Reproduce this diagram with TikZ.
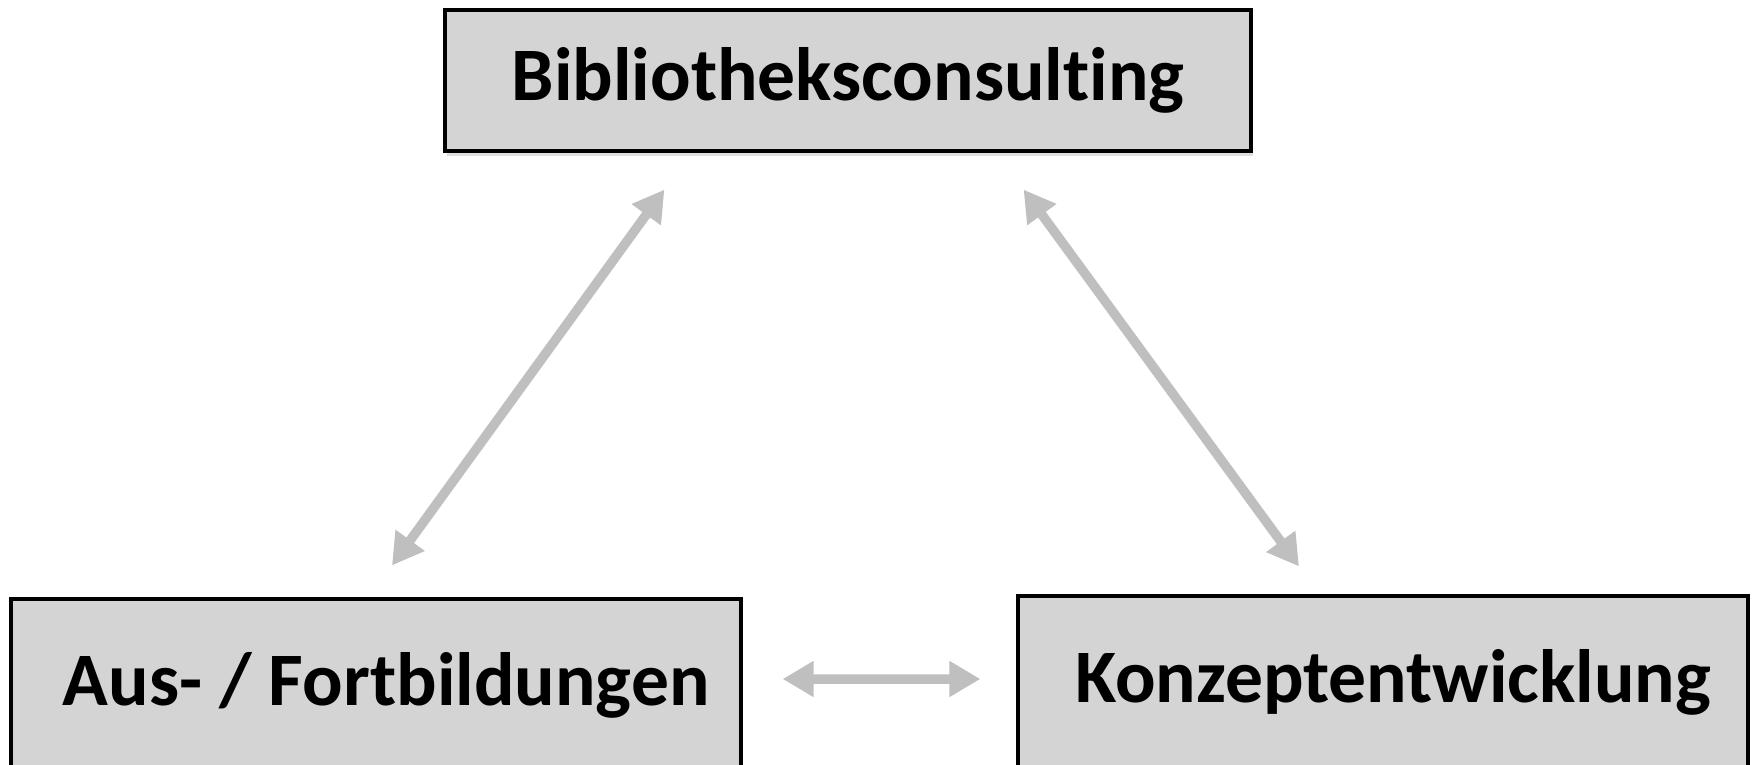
\documentclass[tikz,border=0pt]{standalone}
\usepackage{fontspec}
\setmainfont[Ligatures=NoCommon]{Carlito}
\usepackage{xcolor}
\usepackage{tikz}
\usetikzlibrary{calc}
\usetikzlibrary{arrows.meta}
\usetikzlibrary{shadows}
\definecolor{boxgray}{HTML}{D4D4D4}
\definecolor{arrowgray}{HTML}{BFBFBF}

\begin{document}
\begin{tikzpicture}[
        box/.style={draw=black,line width=0.9pt,fill=boxgray,inner sep=0pt,
            font=\fontsize{21.5}{26}\selectfont\bfseries},
        link/.style={draw=arrowgray,line width=2.7pt,
            {Triangle[length=0.31cm,width=0.34cm]}-{Triangle[length=0.31cm,width=0.34cm]}}]
        \useasboundingbox (0,0) rectangle (17.55,7.64);
        \node[box,minimum width=8.06cm,minimum height=1.41cm,
            drop shadow={opacity=0.25,shadow xshift=0.02cm,shadow yshift=-0.05cm}]
            (bib) at (8.48,6.835) {Bibliotheksconsulting};
        \node[box,minimum width=7.30cm,minimum height=1.72cm] (aus) at (3.76,0.79) {\hspace{0.2cm}Aus- / Fortbildungen};
        \node[box,minimum width=7.30cm,minimum height=1.72cm] (kon) at (13.83,0.82) {\hspace{0.2cm}Konzeptentwicklung};
        % ends of the arrows
        \coordinate (b1) at ($(bib.south west)+(2.21,-0.37)$);
        \coordinate (b2) at ($(bib.south east)+(-2.29,-0.37)$);
        \coordinate (a1) at ($(aus.north)+(0.16,0.32)$);
        \coordinate (k1) at ($(kon.north)+(-0.84,0.28)$);
        \coordinate (a2) at ($(aus.east)+(0.40,0.06)$);
        \coordinate (k2) at ($(kon.west)+(-0.36,0.03)$);
        \draw[link] (a1)--(b1);
        \draw[link] (b2)--(k1);
        \draw[link] (a2)--(k2);
    \end{tikzpicture}
\end{document}
